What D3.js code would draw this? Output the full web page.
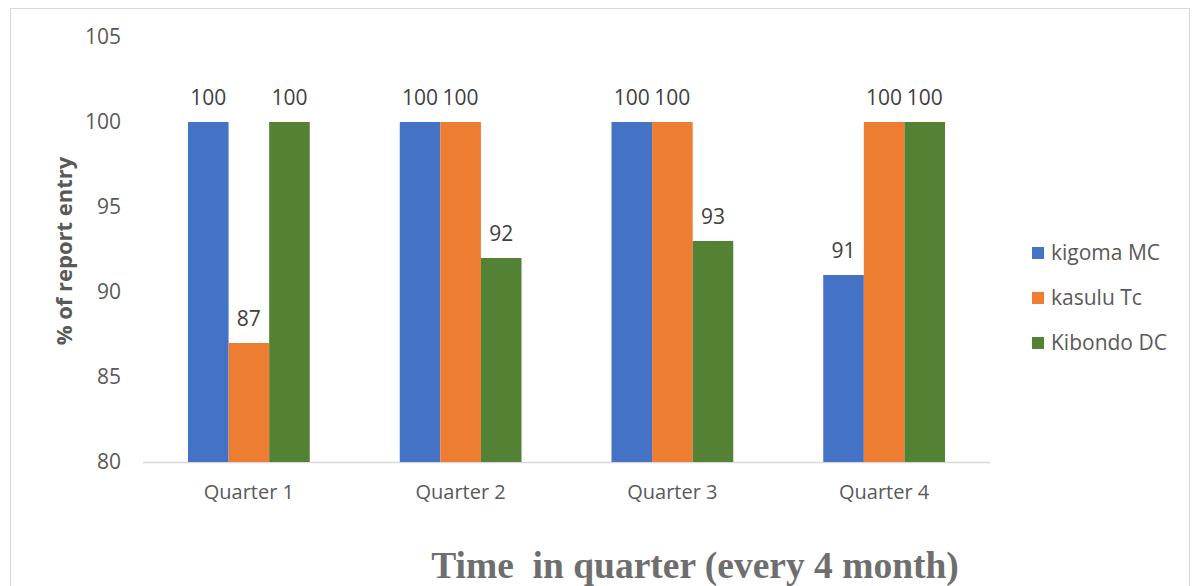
<!DOCTYPE html>
<html>
<head>
<meta charset="utf-8">
<script src="https://cdn.jsdelivr.net/npm/d3@7"></script>
<style>
  body { margin: 0; background: #fff; }
</style>
</head>
<body>
<script>
const quarters = ["Quarter 1", "Quarter 2", "Quarter 3", "Quarter 4"];
const seriesNames = ["kigoma MC", "kasulu Tc", "Kibondo DC"];
const kigomaMC = [100, 100, 100, 91];
const kasuluTc = [87, 100, 100, 100];
const kibondoDC = [100, 92, 93, 100];
const yTicks = [80, 85, 90, 95, 100, 105];
const colors = ["#4472C4", "#ED7D31", "#548235"];

const width = 1192;
const height = 586;
const margin = { top: 37, right: 202, bottom: 124, left: 143 };
const sans = "'Open Sans', 'Noto Sans', sans-serif";

const svg = d3.select("body").append("svg")
  .attr("width", width)
  .attr("height", height)
  .style("font-family", sans);

// outer chart border
svg.append("rect")
  .attr("x", 10.5).attr("y", 8.5)
  .attr("width", 1179).attr("height", 590)
  .attr("fill", "none")
  .attr("stroke", "#d9d9d9");

const allSeries = [kigomaMC, kasuluTc, kibondoDC];
const rows = quarters.map((q, i) => ({
  quarter: q,
  values: allSeries.map((s, j) => ({ name: seriesNames[j], value: s[i], idx: j }))
}));

const x0 = d3.scaleBand()
  .domain(quarters)
  .range([margin.left, width - margin.right])
  .paddingInner(0.425)
  .paddingOuter(0.2125);

const x1 = d3.scaleBand()
  .domain(seriesNames)
  .range([0, x0.bandwidth()]);

const y = d3.scaleLinear()
  .domain([80, 105])
  .range([height - margin.bottom, margin.top]);

// y tick labels
svg.append("g")
  .selectAll("text")
  .data(yTicks)
  .join("text")
  .attr("x", 121)
  .attr("y", d => y(d))
  .attr("dy", "0.35em")
  .attr("text-anchor", "end")
  .attr("font-size", 21)
  .attr("fill", "#595959")
  .text(d => d);

// x axis line
svg.append("line")
  .attr("x1", margin.left)
  .attr("x2", width - margin.right)
  .attr("y1", y(80) + 0.5)
  .attr("y2", y(80) + 0.5)
  .attr("stroke", "#d9d9d9")
  .attr("stroke-width", 1.5);

const groups = svg.append("g")
  .selectAll("g")
  .data(rows)
  .join("g")
  .attr("transform", d => `translate(${x0(d.quarter)},0)`);

groups.selectAll("rect")
  .data(d => d.values)
  .join("rect")
  .attr("x", d => x1(d.name))
  .attr("y", d => y(d.value))
  .attr("width", x1.bandwidth())
  .attr("height", d => y(80) - y(d.value))
  .attr("fill", d => colors[d.idx]);

groups.selectAll("text")
  .data(d => d.values)
  .join("text")
  .attr("x", d => x1(d.name) + x1.bandwidth() / 2)
  .attr("y", d => y(d.value) - 17)
  .attr("text-anchor", "middle")
  .attr("font-size", 21)
  .attr("fill", "#404040")
  .text(d => d.value);

// category labels
svg.append("g")
  .selectAll("text")
  .data(quarters)
  .join("text")
  .attr("x", d => x0(d) + x0.bandwidth() / 2)
  .attr("y", y(80) + 37)
  .attr("text-anchor", "middle")
  .attr("font-size", 20)
  .attr("fill", "#595959")
  .text(d => d);

// y axis title
svg.append("text")
  .attr("transform", "translate(72,251) rotate(-90)")
  .attr("text-anchor", "middle")
  .attr("font-size", 22)
  .attr("font-weight", "bold")
  .attr("fill", "#595959")
  .text("% of report entry");

// x axis title
svg.append("text")
  .attr("x", 695)
  .attr("y", 578)
  .attr("text-anchor", "middle")
  .style("font-family", "'Liberation Serif', 'Times New Roman', serif")
  .attr("font-size", 37.5)
  .attr("font-weight", "bold")
  .attr("fill", "#6e6e6e")
  .style("white-space", "pre")
  .text("Time  in quarter (every 4 month)");

// legend
const legend = svg.append("g")
  .selectAll("g")
  .data(seriesNames)
  .join("g")
  .attr("transform", (d, i) => `translate(1032,${253 + i * 45})`);

legend.append("rect")
  .attr("x", 0).attr("y", -6)
  .attr("width", 12).attr("height", 12)
  .attr("fill", (d, i) => colors[i]);

legend.append("text")
  .attr("x", 19)
  .attr("y", 0)
  .attr("dy", "0.35em")
  .attr("font-size", 21)
  .attr("fill", "#595959")
  .text(d => d);
</script>
</body>
</html>
